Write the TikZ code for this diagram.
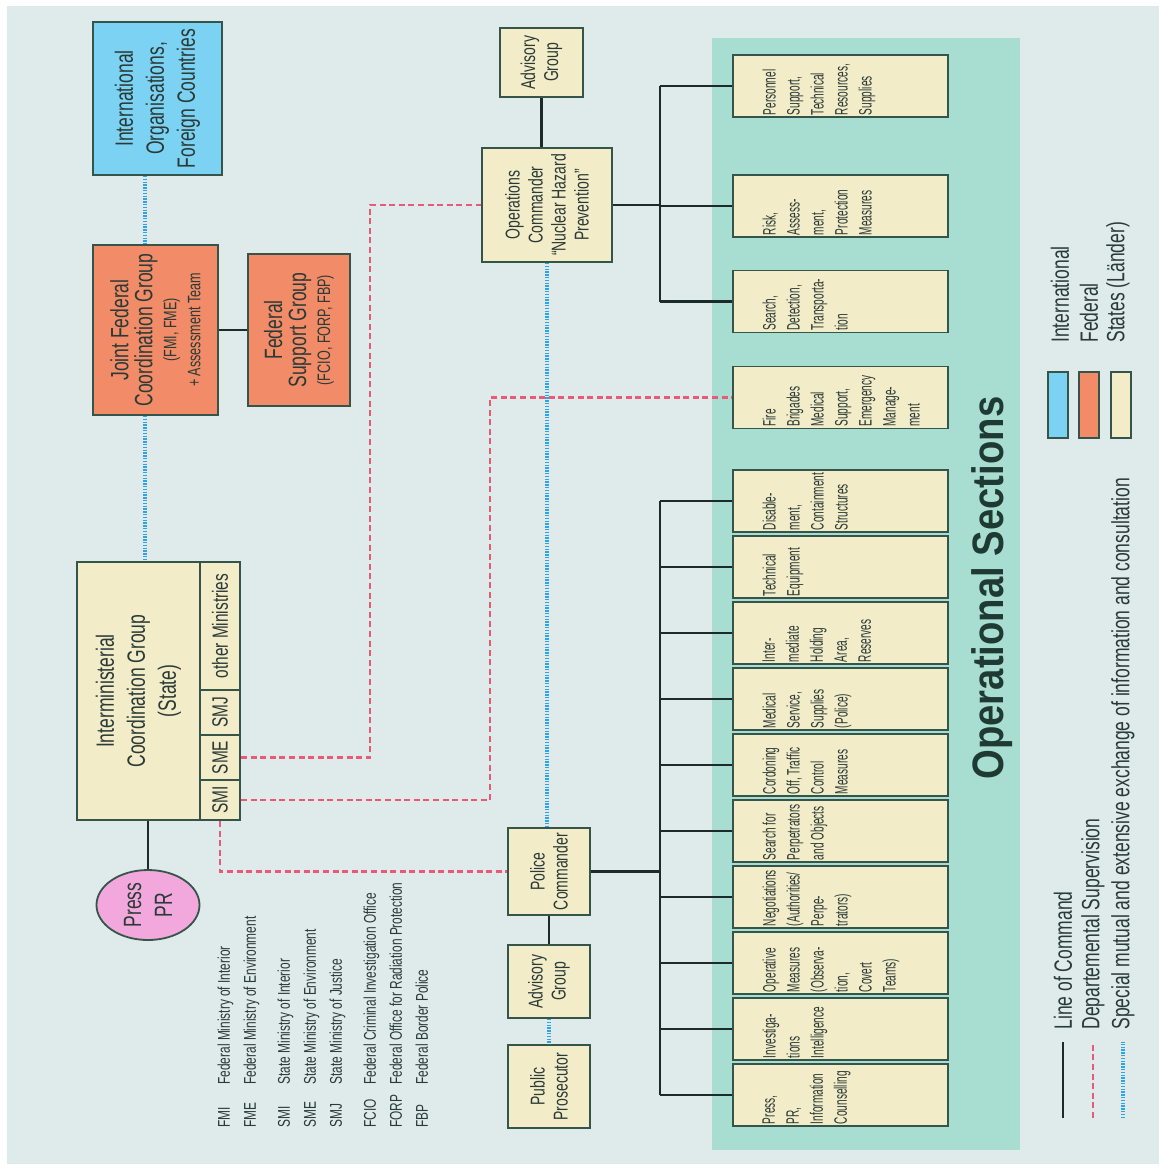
\documentclass[tikz,border=0pt]{standalone}
\usepackage{fontspec}
\setmainfont[FakeStretch=0.7]{Liberation Sans}
\newfontfamily\opfont[FakeStretch=0.56]{Liberation Sans}
\newfontfamily\titlefont[FakeStretch=0.87]{Liberation Sans}
\usetikzlibrary{shapes.geometric}

\definecolor{bgcol}{HTML}{DFEAEA}
\definecolor{sectcol}{HTML}{A8DED2}
\definecolor{statecol}{HTML}{F2ECC8}
\definecolor{fedcol}{HTML}{F28B68}
\definecolor{intlcol}{HTML}{7CD2F3}
\definecolor{presscol}{HTML}{F2A8DC}
\definecolor{boxline}{HTML}{36554A}
\definecolor{cmdcol}{HTML}{1C2B2A}
\definecolor{supcol}{HTML}{E85A78}
\definecolor{infocol}{HTML}{2FA4E0}
\definecolor{txtcol}{HTML}{2A3A36}
\definecolor{titlecol}{HTML}{1F3A32}

\newcommand{\bigtxt}{\fontsize{12.5}{15.5}\selectfont}
\newcommand{\midtxt}{\fontsize{10}{11.5}\selectfont}
\newcommand{\smltxt}{\fontsize{9}{11}\selectfont}
\newcommand{\sectext}[1]{\parbox[c][78pt][t]{29pt}{\opfont\fontsize{9}{12}\selectfont\raggedright #1}}

\tikzset{
  box/.style={draw=boxline, line width=0.9pt, rotate=90, inner sep=1pt, text=txtcol},
  statebox/.style={box, fill=statecol, align=center},
  fedbox/.style={box, fill=fedcol, align=center},
  intlbox/.style={box, fill=intlcol, align=center},
  secbox/.style={box, fill=statecol, inner sep=0pt, minimum width=31pt, minimum height=107.5pt},
  cmdline/.style={draw=cmdcol, line width=1.4pt},
  supline/.style={draw=supcol, line width=1.3pt, dash pattern=on 3pt off 1.8pt},
  infoline/.style={draw=infocol, line width=1.8pt, dash pattern=on 0.7pt off 0.7pt},
  legtext/.style={rotate=90, anchor=west, inner sep=0pt, text=txtcol, font=\fontsize{12.5}{14}\selectfont},
}

\begin{document}
\begin{tikzpicture}[x=0.5pt, y=-0.5pt]
\useasboundingbox (0,0) rectangle (1165,1169);
\fill[white] (0,0) rectangle (1165,1169);
\fill[bgcol] (7,6) rectangle (1159,1164);
\fill[sectcol] (712,38) rectangle (1020,1150);

% international and federal level
\node[intlbox, minimum width=76.5pt, minimum height=64.5pt, font=\bigtxt] (intl) at (157.5,98.5) {International\\Organisations,\\Foreign Countries};
\node[fedbox, minimum width=85pt, minimum height=62.5pt] (jfcg) at (155.5,330) {\bigtxt Joint Federal\\\bigtxt Coordination Group\\\smltxt (FMI, FME)\\\smltxt + Assessment Team};
\node[fedbox, minimum width=76pt, minimum height=51pt] (fsg) at (299,330) {\bigtxt Federal\\\bigtxt Support Group\\\smltxt (FCIO, FORP, FBP)};

% state level
\node[statebox, minimum width=129pt, minimum height=61.5pt, font=\bigtxt] (imcg) at (138.5,691) {Interministerial\\Coordination Group\\(State)};
\node[statebox, minimum width=64pt, minimum height=20pt, font=\fontsize{11}{13}\selectfont] (othm) at (220,626) {other Ministries};
\node[statebox, minimum width=22.5pt, minimum height=20pt, font=\fontsize{11}{13}\selectfont] (smj) at (220,712.5) {SMJ};
\node[statebox, minimum width=22.5pt, minimum height=20pt, font=\fontsize{11}{13}\selectfont] (sme) at (220,757.5) {SME};
\node[statebox, minimum width=20pt, minimum height=20pt, font=\fontsize{11}{13}\selectfont] (smi) at (220,800) {SMI};
\node[ellipse, draw=boxline, line width=0.9pt, fill=presscol, rotate=90, align=center, inner sep=0pt, minimum width=35pt, minimum height=51.5pt, text=txtcol, font=\bigtxt] (press) at (148,905) {Press\\PR};

% operations commander
\node[statebox, minimum width=34.5pt, minimum height=41.5pt, font=\midtxt] (advtop) at (541.5,62.5) {Advisory\\Group};
\node[statebox, minimum width=57pt, minimum height=65pt, font=\midtxt] (opcmd) at (547,205) {Operations\\Commander\\“Nuclear Hazard\\Prevention”};

% police commander
\node[statebox, minimum width=43.5pt, minimum height=41pt, font=\midtxt] (police) at (549,871.5) {Police\\Commander};
\node[statebox, minimum width=36.5pt, minimum height=41pt, font=\midtxt] (advbot) at (549,981.5) {Advisory\\Group};
\node[statebox, minimum width=41.5pt, minimum height=41pt, font=\midtxt] (prosec) at (549,1086.5) {Public\\Prosecutor};

% operational sections
\node[rotate=90, text=titlecol, font=\titlefont\bfseries\fontsize{22}{26}\selectfont] (title) at (992,588) {Operational Sections};
\node[secbox] (sec1) at (840.5,86) {\sectext{Personnel\\Support,\\Technical\\Resources,\\Supplies}};
\node[secbox] (sec2) at (840.5,206) {\sectext{Risk,\\Assess-\\ment,\\Protection\\Measures}};
\node[secbox] (sec3) at (840.5,301.5) {\sectext{Search,\\Detection,\\Transporta-\\tion}};
\node[secbox] (sec4) at (840.5,397.5) {\sectext{Fire\\Brigades\\Medical\\Support,\\Emergency\\Manage-\\ment}};
\node[secbox] (sec5) at (840.5,501) {\sectext{Disable-\\ment,\\Containment\\Structures}};
\node[secbox] (sec6) at (840.5,567) {\sectext{Technical\\Equipment}};
\node[secbox] (sec7) at (840.5,633) {\sectext{Inter-\\mediate\\Holding\\Area,\\Reserves}};
\node[secbox] (sec8) at (840.5,699) {\sectext{Medical\\Service,\\Supplies\\(Police)}};
\node[secbox] (sec9) at (840.5,765) {\sectext{Cordoning\\Off, Traffic\\Control\\Measures}};
\node[secbox] (sec10) at (840.5,831) {\sectext{Search for\\Perpetrators\\and Objects}};
\node[secbox] (sec11) at (840.5,897) {\sectext{Negotiations\\(Authorities/\\Perpe-\\trators)}};
\node[secbox] (sec12) at (840.5,963) {\sectext{Operative\\Measures\\(Observa-\\tion,\\Covert\\Teams)}};
\node[secbox] (sec13) at (840.5,1029) {\sectext{Investiga-\\tions\\Intelligence}};
\node[secbox] (sec14) at (840.5,1095) {\sectext{Press,\\PR,\\Information\\Counselling}};

% line of command
\draw[cmdline] (jfcg) -- (fsg);
\draw[cmdline] (advtop) -- (advtop |- opcmd.east);
\draw[cmdline] (press |- imcg.west) -- (press);
\draw[cmdline] (police) -- (advbot);
\coordinate (opbus) at (660,205);
\draw[cmdline] (opcmd) -- (opbus);
\draw[cmdline] (opbus |- sec1) -- (opbus |- sec3);
\foreach \k in {1,2,3}
  \draw[cmdline] (opbus |- sec\k) -- (sec\k);
\coordinate (polbus) at (660,871.5);
\draw[cmdline] (police) -- (polbus);
\draw[cmdline] (polbus |- sec5) -- (polbus |- sec14);
\foreach \k in {5,...,14}
  \draw[cmdline] (polbus |- sec\k) -- (sec\k);

% departmental supervision
\draw[supline] (sme) -- ++(150,0) |- (opcmd);
\draw[supline] (smi) -- ++(270,0) |- (sec4);
\draw[supline] (smi) |- (police);

% exchange of information
\draw[infoline] ([xshift=-6.25pt]intl.west) -- ([xshift=-5.25pt]jfcg.east);
\draw[infoline] ([xshift=-5.25pt]jfcg.west) -- ([xshift=3.25pt]imcg.east);
\draw[infoline] (opcmd.west) -- (opcmd.west |- police.east);
\draw[infoline] (advbot) -- (prosec);

% abbreviations
\node[rotate=90, anchor=south west, inner sep=0pt, text=txtcol, font=\fontsize{8.5}{10}\selectfont] (abbr) at (436,1128) {\def\arraystretch{1.3}\begin{tabular}{@{}l@{\hspace{5pt}}l@{}}
FMI & Federal Ministry of Interior\\
FME & Federal Ministry of Environment\\[4pt]
SMI & State Ministry of Interior\\
SME & State Ministry of Environment\\
SMJ & State Ministry of Justice\\[4pt]
FCIO & Federal Criminal Investigation Office\\
FORP & Federal Office for Radiation Protection\\
FBP & Federal Border Police
\end{tabular}};

% legend
\coordinate (lgcmd) at (1063,1118);
\coordinate (lgsup) at (1093,1118);
\coordinate (lginfo) at (1123,1118);
\node[legtext] (lgcmdtxt) at (1063,1030) {Line of Command};
\node[legtext] (lgsuptxt) at (1093,1030) {Departemental Supervision};
\node[legtext] (lginfotxt) at (1123,1030) {Special mutual and extensive exchange of information and consultation};
\draw[cmdline, shorten >=6pt] (lgcmd) -- (lgcmdtxt);
\draw[supline, shorten >=6pt] (lgsup) -- (lgsuptxt);
\draw[infoline, shorten >=6pt] (lginfo) -- (lginfotxt);
\node[intlbox, minimum width=33pt, minimum height=10pt, inner sep=0pt] (swintl) at (1058,405) {};
\node[fedbox, minimum width=33pt, minimum height=10pt, inner sep=0pt] (swfed) at (1089,405) {};
\node[statebox, minimum width=33pt, minimum height=10pt, inner sep=0pt] (swstate) at (1121,405) {};
\node[legtext] (lgintl) at (1060,343) {International};
\node[legtext] (lgfed) at (1089,343) {Federal};
\node[legtext] (lgstate) at (1118,343) {States (Länder)};
\end{tikzpicture}
\end{document}
